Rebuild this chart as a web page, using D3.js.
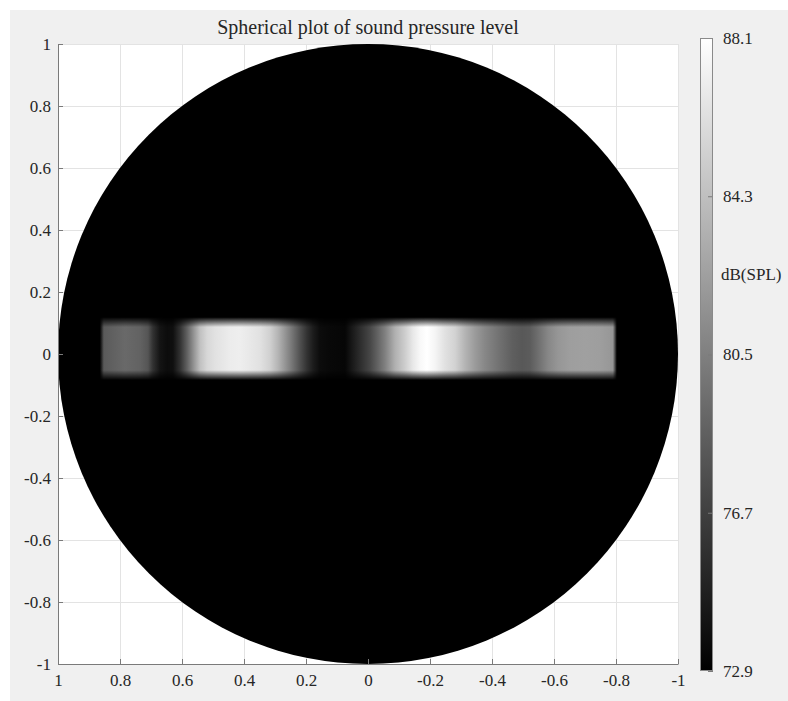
<!DOCTYPE html>
<html>
<head>
<meta charset="utf-8">
<script src="https://cdn.jsdelivr.net/npm/d3@7/dist/d3.min.js"></script>
<style>
  html, body { margin: 0; padding: 0; background: #fff; }
  svg { display: block; }
  text { font-family: "Liberation Serif", "Times New Roman", serif; fill: #262626; }
</style>
</head>
<body>
<svg id="chart" width="788" height="701"></svg>
<script>
// Sound pressure level along the horizontal belt of the sphere (projected x, dB SPL)
const beltX = [0.865, 0.852, 0.826, 0.784, 0.735, 0.710, 0.694, 0.671, 0.648, 0.629,
  0.606, 0.584, 0.561, 0.542, 0.519, 0.494, 0.445, 0.413, 0.381, 0.348,
  0.316, 0.290, 0.268, 0.252, 0.219, 0.197, 0.177, 0.155, 0.123, 0.074,
  0.042, 0.019, -0.006, -0.032, -0.055, -0.087, -0.119, -0.145, -0.168, -0.190,
  -0.216, -0.248, -0.281, -0.313, -0.345, -0.377, -0.426, -0.465, -0.497, -0.523,
  -0.555, -0.581, -0.613, -0.652, -0.700, -0.748, -0.781, -0.790, -0.803];
const beltSpl = [72.9, 78.26, 78.62, 79.16, 78.74, 77.97, 75.88, 74.09, 73.62, 73.79,
  75.88, 78.62, 81.84, 84.34, 85.72, 86.31, 86.97, 87.09, 86.73, 86.31,
  85.30, 83.63, 81.84, 80.53, 77.67, 75.88, 74.57, 73.62, 73.38, 73.26,
  74.81, 75.88, 77.07, 78.86, 80.53, 83.39, 85.12, 86.73, 87.68, 88.10,
  87.50, 86.31, 85.42, 83.63, 82.14, 80.95, 79.58, 78.56, 78.15, 78.38,
  79.75, 80.95, 81.84, 82.32, 82.44, 82.32, 81.96, 81.84, 72.9];
// Vertical extent of the belt: outer bottom, inner bottom, inner top, outer top
const beltY = [-0.084, -0.052, 0.087, 0.119];

const axisTicks = [-1, -0.8, -0.6, -0.4, -0.2, 0, 0.2, 0.4, 0.6, 0.8, 1];
const colorTicks = [72.9, 76.7, 80.5, 84.3, 88.1];
const splRange = [72.9, 88.1];

const titleText = "Spherical plot of sound pressure level";
const colorLabel = "dB(SPL)";

const svg = d3.select("#chart");
const defs = svg.append("defs");

// figure background
svg.append("rect").attr("x", 10).attr("y", 10).attr("width", 778).attr("height", 691)
  .attr("fill", "#f0f0f0");

const plot = { left: 58, right: 678, top: 44, bottom: 664 };
const x = d3.scaleLinear().domain([1, -1]).range([plot.left, plot.right]);
const y = d3.scaleLinear().domain([-1, 1]).range([plot.bottom, plot.top]);
const gray = d3.scaleLinear().domain(splRange).range(["#000000", "#ffffff"]).clamp(true);

// plain hyphen for negative tick labels
const fmtTick = d => d3.format("~g")(d).replace("\u2212", "-");

// axes area
svg.append("rect").attr("x", plot.left).attr("y", plot.top)
  .attr("width", plot.right - plot.left).attr("height", plot.bottom - plot.top)
  .attr("fill", "#ffffff");

// grid
const grid = svg.append("g").attr("stroke", "#e3e3e3").attr("stroke-width", 1);
grid.selectAll("line.vx").data(axisTicks).join("line")
  .attr("x1", d => Math.round(x(d)) + 0.5).attr("x2", d => Math.round(x(d)) + 0.5)
  .attr("y1", plot.top).attr("y2", plot.bottom);
grid.selectAll("line.hy").data(axisTicks).join("line")
  .attr("y1", d => Math.round(y(d)) + 0.5).attr("y2", d => Math.round(y(d)) + 0.5)
  .attr("x1", plot.left).attr("x2", plot.right);

// sphere seen face-on: unit disc at the minimum level
svg.append("circle")
  .attr("cx", x(0)).attr("cy", y(0))
  .attr("r", Math.abs(x(1) - x(0)))
  .attr("fill", gray(splRange[0]));

// belt: horizontal colour gradient from the SPL samples
const bx0 = x(beltX[0]), bx1 = x(beltX[beltX.length - 1]);
const hGrad = defs.append("linearGradient").attr("id", "beltGrad")
  .attr("gradientUnits", "userSpaceOnUse")
  .attr("x1", bx0).attr("x2", bx1).attr("y1", 0).attr("y2", 0);
hGrad.selectAll("stop").data(beltX).join("stop")
  .attr("offset", d => (x(d) - bx0) / (bx1 - bx0))
  .attr("stop-color", (d, i) => gray(beltSpl[i]));

// belt: vertical fall-off toward the minimum level
const yTop = y(beltY[3]), yBot = y(beltY[0]);
const vGrad = defs.append("linearGradient").attr("id", "beltFade")
  .attr("gradientUnits", "userSpaceOnUse")
  .attr("x1", 0).attr("x2", 0).attr("y1", yTop).attr("y2", yBot);
const fadeStops = [[beltY[3], 0], [beltY[2], 1], [beltY[1], 1], [beltY[0], 0]];
vGrad.selectAll("stop").data(fadeStops).join("stop")
  .attr("offset", d => (y(d[0]) - yTop) / (yBot - yTop))
  .attr("stop-color", d => d[1] ? "#fff" : "#000");
const mask = defs.append("mask").attr("id", "beltMask")
  .attr("maskUnits", "userSpaceOnUse")
  .attr("x", bx0).attr("y", yTop).attr("width", bx1 - bx0).attr("height", yBot - yTop);
mask.append("rect").attr("x", bx0).attr("y", yTop)
  .attr("width", bx1 - bx0).attr("height", yBot - yTop)
  .attr("fill", "url(#beltFade)");

svg.append("rect").attr("x", bx0).attr("y", yTop)
  .attr("width", bx1 - bx0).attr("height", yBot - yTop)
  .attr("fill", "url(#beltGrad)").attr("mask", "url(#beltMask)");

// axes
const axisColor = "#7a7a7a";
const xAxis = d3.axisBottom(x).tickValues(axisTicks).tickSizeInner(-5).tickSizeOuter(0)
  .tickPadding(10).tickFormat(fmtTick);
const yAxis = d3.axisLeft(y).tickValues(axisTicks).tickSizeInner(-5).tickSizeOuter(0)
  .tickPadding(7).tickFormat(fmtTick);

const gx = svg.append("g").attr("transform", `translate(0,${plot.bottom})`).call(xAxis);
const gy = svg.append("g").attr("transform", `translate(${plot.left},0)`).call(yAxis);
[gx, gy].forEach(g => {
  g.selectAll("path.domain").attr("stroke", axisColor);
  g.selectAll(".tick line").attr("stroke", axisColor);
  g.selectAll(".tick text").attr("font-size", 17)
    .attr("font-family", '"Liberation Serif", serif').attr("fill", "#262626");
});

// title
svg.append("text").attr("x", (plot.left + plot.right) / 2).attr("y", 34)
  .attr("text-anchor", "middle").attr("font-size", 20).text(titleText);

// colour bar
const cb = { x: 700, w: 13, top: 38, bottom: 671 };
const c = d3.scaleLinear().domain(splRange).range([cb.bottom, cb.top]);
const cGrad = defs.append("linearGradient").attr("id", "cbGrad")
  .attr("x1", 0).attr("x2", 0).attr("y1", 1).attr("y2", 0);
cGrad.selectAll("stop").data(splRange).join("stop")
  .attr("offset", (d, i) => i)
  .attr("stop-color", d => gray(d));
svg.append("rect").attr("x", cb.x).attr("y", cb.top)
  .attr("width", cb.w).attr("height", cb.bottom - cb.top)
  .attr("fill", "url(#cbGrad)");

const cAxis = d3.axisRight(c).tickValues(colorTicks).tickSizeInner(-5).tickSizeOuter(0)
  .tickPadding(10).tickFormat(d3.format(".1f"));
const gc = svg.append("g").attr("transform", `translate(${cb.x + cb.w},0)`).call(cAxis);
gc.selectAll("path.domain").remove();
gc.selectAll(".tick line").attr("stroke", axisColor);
gc.selectAll(".tick text").attr("font-size", 17)
  .attr("font-family", '"Liberation Serif", serif').attr("fill", "#262626");
svg.append("rect").attr("x", cb.x + 0.5).attr("y", cb.top + 0.5)
  .attr("width", cb.w - 1).attr("height", cb.bottom - cb.top - 1)
  .attr("fill", "none").attr("stroke", "#8a8a8a");

svg.append("text").attr("x", 721).attr("y", 280).attr("font-size", 17).text(colorLabel);
</script>
</body>
</html>
